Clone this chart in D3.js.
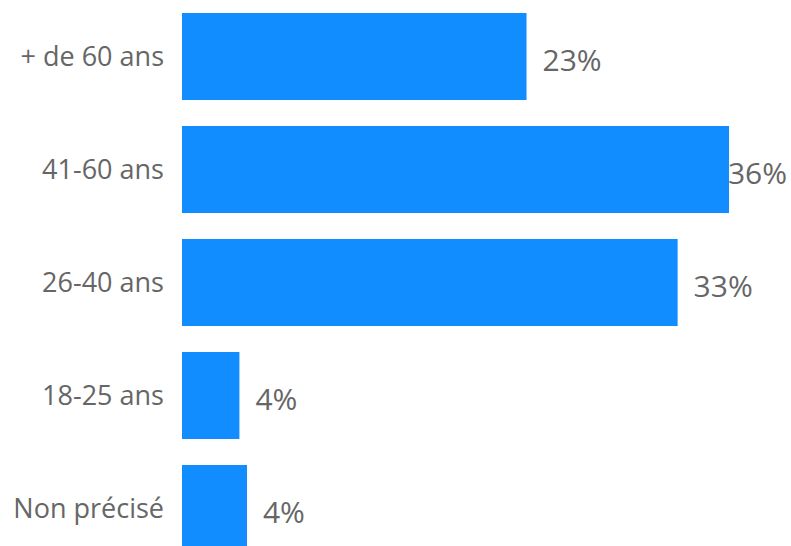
<!DOCTYPE html>
<html lang="fr">
<head>
<meta charset="utf-8">
<script src="https://d3js.org/d3.v7.min.js"></script>
<style>
  body { margin: 0; background: #fff; overflow: hidden; }
  .cat { font-family: "Open Sans", "Noto Sans", sans-serif; fill: #666; }
  .val { font-family: "Open Sans", "Noto Sans", sans-serif; fill: #666; }
</style>
<title>Tranches d'âge</title>
</head>
<body>
<svg id="chart" width="791" height="546"></svg>
<script>
// categories, top to bottom
var categories = ["+ de 60 ans", "41-60 ans", "26-40 ans", "18-25 ans", "Non précisé"];
// share in percent
var values = [22.8, 36.2, 32.8, 3.8, 4.3];
var labels = ["23%", "36%", "33%", "4%", "4%"];

var svg = d3.select("#chart"),
    W = +svg.attr("width");

var x = d3.scaleLinear().domain([0, d3.max(values)]).range([182, 729]);
var y = d3.scaleBand().domain(categories).range([13, 552]).paddingInner(0.23).paddingOuter(0);

var rows = categories.map(function(c, i) { return {cat: c, v: values[i], lab: labels[i]}; });

svg.selectAll("rect.bar")
  .data(rows)
  .enter().append("rect")
  .attr("class", "bar")
  .attr("x", x(0))
  .attr("y", function(d) { return y(d.cat); })
  .attr("width", function(d) { return x(d.v) - x(0); })
  .attr("height", y.bandwidth())
  .attr("fill", "#118DFF");

// category labels
svg.selectAll("text.cat")
  .data(rows)
  .enter().append("text")
  .attr("class", "cat")
  .attr("x", 164)
  .attr("y", function(d) { return y(d.cat) + y.bandwidth() / 2; })
  .attr("dy", "0.36em")
  .attr("text-anchor", "end")
  .style("font-size", "27px")
  .text(function(d) { return d.cat; });

// value labels, pushed back inside the frame when they would overflow
svg.selectAll("text.val")
  .data(rows)
  .enter().append("text")
  .attr("class", "val")
  .attr("y", function(d) { return y(d.cat) + y.bandwidth() / 2 + 4; })
  .attr("dy", "0.36em")
  .style("font-size", "30px")
  .text(function(d) { return d.lab; })
  .attr("x", function(d) {
    var w = this.getComputedTextLength();
    return Math.min(x(d.v) + 16, W - 4 - w);
  });
</script>
</body>
</html>
